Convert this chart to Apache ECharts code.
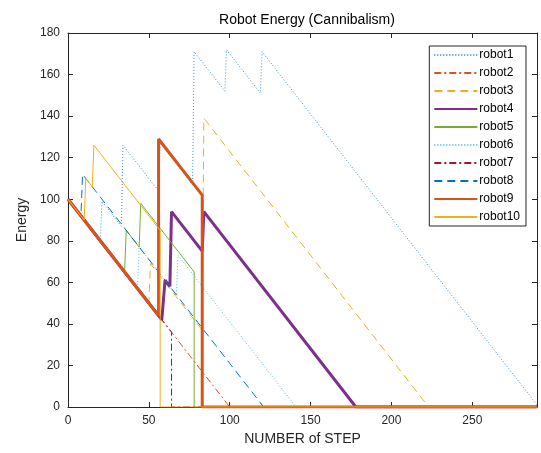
<!DOCTYPE html>
<html>
<head>
<meta charset="utf-8">
<script src="https://cdn.jsdelivr.net/npm/echarts@6/dist/echarts.min.js"></script>
<style>
html,body{margin:0;padding:0;background:#fff;}
#chart{width:541px;height:453px;}
</style>
</head>
<body>
<div id="chart"></div>
<script>
// [step, energy] breakpoints
var robot1  = [[0,100],[20,80],[21,99],[33,87],[34,126],[56,104],[57,127],[77,107],[78,171],[97,152],[98,172],[119,151],[120,171],[290,1]];
var robot2  = [[0,100],[64,36],[100,0],[290,0]];
var robot3  = [[0,100],[50,50],[51,69],[83,37],[84,139],[223,0],[290,0]];
var robot4  = [[0,100],[58,42],[60,61],[63,58],[64,94],[83,75],[84,94],[178,0],[290,0]];
var robot5  = [[0,100],[35,65],[36,85],[44,77],[45,98],[78,65],[78,0],[290,0]];
var robot6  = [[0,100],[43,57],[44,77],[67,54],[68,73],[141,0],[290,0]];
var robot7  = [[0,100],[64,36],[64,0],[290,0]];
var robot8  = [[0,100],[8,92],[9,112],[121,0],[290,0]];
var robot9  = [[0,100],[56,44],[56,129],[83,102],[83,0],[290,0]];
var robot10 = [[0,100],[10,90],[11,110],[15,106],[16,126],[57,85],[57,0],[290,0]];

var names = ['robot1','robot2','robot3','robot4','robot5','robot6','robot7','robot8','robot9','robot10'];
var datas = [robot1,robot2,robot3,robot4,robot5,robot6,robot7,robot8,robot9,robot10];
var styles = [
  {color:'#3d8fcc', width:1, type:[1,2]},
  {color:'#D95319', width:1, type:[7,3,2,3]},
  {color:'#EDB120', width:1, type:[8,5]},
  {color:'#7E2F8E', width:3, type:'solid'},
  {color:'#77AC30', width:1, type:'solid'},
  {color:'#4DBEEE', width:1, type:[1,2]},
  {color:'#A2142F', width:1, type:[7,3,2,3]},
  {color:'#0072BD', width:1, type:[8,5]},
  {color:'#D95319', width:3, type:'solid'},
  {color:'#EDB120', width:1, type:'solid'}
];

var series = names.map(function(n,i){
  return {
    name:n, type:'line', data:datas[i], symbol:'none', showSymbol:false,
    animation:false, xAxisIndex:0, yAxisIndex:0,
    lineStyle:{color:styles[i].color, width:styles[i].width, type:styles[i].type},
    itemStyle:{color:styles[i].color}
  };
});

var axisCol = '#262626';
var font = 'Liberation Sans, Arial';
var tickStyle = {show:true, inside:false, length:-5, lineStyle:{color:axisCol}};
var chart = echarts.init(document.getElementById('chart'), null, {renderer:'canvas'});
chart.setOption({
  animation:false,
  backgroundColor:'#fff',
  title:{text:'Robot Energy (Cannibalism)', left:302, top:8, textAlign:'center',
    textStyle:{fontFamily:font, fontSize:14, fontWeight:'normal', color:'#000'}},
  grid:{left:68, right:4, top:33, bottom:46, containLabel:false},
  legend:{
    orient:'vertical', right:15, top:46, itemWidth:43, itemHeight:12, itemGap:6,
    padding:[3,6,3,4], borderColor:axisCol, borderWidth:1, backgroundColor:'#fff',
    itemStyle:{opacity:0},
    textStyle:{fontFamily:font, fontSize:12, color:'#000', padding:[0,0,0,-3]},
    data:names
  },
  xAxis:[{
    type:'value', position:'bottom', min:0, max:290, interval:50,
    name:'NUMBER of STEP', nameLocation:'middle', nameGap:25,
    nameTextStyle:{fontFamily:font, fontSize:14, color:axisCol},
    axisLine:{show:true, onZero:false, lineStyle:{color:axisCol, width:1}},
    axisTick:tickStyle,
    axisLabel:{color:axisCol, fontFamily:font, fontSize:12, margin:8, showMaxLabel:false,
      formatter:function(v){return v%50===0? String(v):'';}},
    splitLine:{show:false}
  },{
    type:'value', position:'top', min:0, max:290, interval:50,
    axisLine:{show:true, onZero:false, lineStyle:{color:axisCol, width:1}},
    axisTick:tickStyle,
    axisLabel:{show:false}, splitLine:{show:false}
  }],
  yAxis:[{
    type:'value', position:'left', min:0, max:180, interval:20,
    name:'Energy', nameLocation:'middle', nameGap:31,
    nameTextStyle:{fontFamily:font, fontSize:14, color:axisCol},
    axisLine:{show:true, onZero:false, lineStyle:{color:axisCol, width:1}},
    axisTick:tickStyle,
    axisLabel:{color:axisCol, fontFamily:font, fontSize:12, margin:8},
    splitLine:{show:false}
  },{
    type:'value', position:'right', min:0, max:180, interval:20,
    axisLine:{show:true, onZero:false, lineStyle:{color:axisCol, width:1}},
    axisTick:tickStyle,
    axisLabel:{show:false}, splitLine:{show:false}
  }],
  series:series
});
</script>
</body>
</html>
